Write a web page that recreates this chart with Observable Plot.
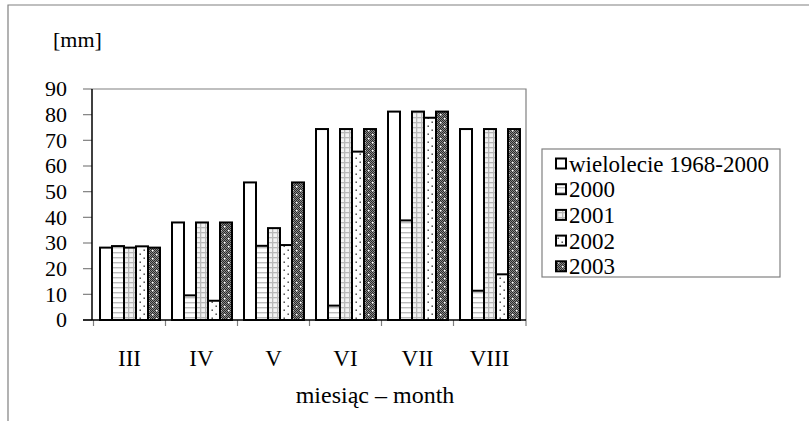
<!DOCTYPE html>
<html><head><meta charset="utf-8">
<script src="https://cdn.jsdelivr.net/npm/d3@7"></script>
<script src="https://cdn.jsdelivr.net/npm/@observablehq/plot@0.6"></script>
<style>
html,body{margin:0;padding:0;background:#fff;}
#chart{position:relative;width:809px;height:421px;}
</style></head><body><div id="chart"></div>
<script>
const months = ["III", "IV", "V", "VI", "VII", "VIII"];
const seriesNames = ["wielolecie 1968-2000", "2000", "2001", "2002", "2003"];
const valuesWielolecie = [28.2, 38.0, 53.6, 74.4, 81.2, 74.4];
const values2000 = [28.8, 9.6, 28.9, 5.6, 38.8, 11.4];
const values2001 = [28.2, 38.0, 35.8, 74.4, 81.2, 74.4];
const values2002 = [28.7, 7.5, 29.2, 65.6, 78.8, 17.8];
const values2003 = [28.2, 38.0, 53.6, 74.4, 81.2, 74.4];
const yTicks = [0, 10, 20, 30, 40, 50, 60, 70, 80, 90];
const yUnit = "[mm]";
const xTitle = "miesiąc – month";

const allValues = [valuesWielolecie, values2000, values2001, values2002, values2003];
const data = [];
seriesNames.forEach((s, i) => months.forEach((m, j) => data.push({month: m, series: s, value: allValues[i][j]})));

const FONT = "'Liberation Serif', 'Times New Roman', serif";

const plot = Plot.plot({
  width: 809, height: 421,
  marginLeft: 92, marginRight: 283, marginTop: 89, marginBottom: 101,
  fx: {domain: months, paddingInner: 0.13, paddingOuter: 0.065, axis: null, label: null},
  x: {domain: seriesNames, padding: 0, axis: null},
  y: {domain: [0, 90], axis: null},
  color: {domain: seriesNames, range: seriesNames.map((s, i) => `url(#pat${i})`)},
  style: {fontFamily: FONT, fontSize: "21px", background: "#fff", overflow: "visible"},
  marks: [
    Plot.barY(data, {fx: "month", x: "series", y: "value", fill: "series", stroke: "black", strokeWidth: 2})
  ]
});
document.getElementById("chart").appendChild(plot);

const svg = d3.select(plot);
const fx = plot.scale("fx");
const y = plot.scale("y");
const x0 = fx.range[0], x1 = fx.range[1];
const yb = y.apply(0), yt = y.apply(90);

// patterns
const defs = svg.insert("defs", ":first-child");
function pat(id, w, h) {
  return defs.append("pattern").attr("id", id).attr("patternUnits", "userSpaceOnUse").attr("width", w).attr("height", h);
}
pat("pat0", 4, 4).append("rect").attr("width", 4).attr("height", 4).attr("fill", "#fff");
{
  const p = pat("pat1", 4, 5);
  p.append("rect").attr("width", 4).attr("height", 5).attr("fill", "#fff");
  p.append("rect").attr("y", 2).attr("width", 4).attr("height", 1.4).attr("fill", "#bcbcbc");
}
{
  const p = pat("pat2", 5, 5);
  p.append("rect").attr("width", 5).attr("height", 5).attr("fill", "#f2f2f2");
  p.append("rect").attr("y", 2).attr("width", 5).attr("height", 1.3).attr("fill", "#b8b8b8");
  p.append("rect").attr("x", 2).attr("width", 1.3).attr("height", 5).attr("fill", "#b8b8b8");
}
{
  const p = pat("pat3", 8, 8);
  p.append("rect").attr("width", 8).attr("height", 8).attr("fill", "#fff");
  p.append("rect").attr("x", 1.5).attr("y", 1.5).attr("width", 1.4).attr("height", 1.4).attr("fill", "#333");
  p.append("rect").attr("x", 5.5).attr("y", 5.5).attr("width", 1.4).attr("height", 1.4).attr("fill", "#333");
}
{
  const p = pat("pat4", 8, 8);
  p.append("rect").attr("width", 8).attr("height", 8).attr("fill", "#8a8a8a");
  for (let i = 0; i < 8; i++) for (let j = 0; j < 8; j++) if ((i + j) % 2 === 0)
    p.append("rect").attr("x", i).attr("y", j).attr("width", 1).attr("height", 1).attr("fill", "#2a2a2a");
  p.append("rect").attr("x", 2).attr("y", 2).attr("width", 1.5).attr("height", 1.5).attr("fill", "#fff");
  p.append("rect").attr("x", 6).attr("y", 6).attr("width", 1.5).attr("height", 1.5).attr("fill", "#fff");
}

const g = svg.append("g").attr("text-anchor", "start").attr("font-family", FONT);
// outer frame
g.append("path").attr("d", `M8,421V5H809`).attr("fill", "none").attr("stroke", "#808080").attr("stroke-width", 1.2);
// plot frame top/right
g.append("path").attr("d", `M${x0},${yt}H${x1}V${yb}`).attr("fill", "none").attr("stroke", "#808080").attr("stroke-width", 1.2);
// y ticks
yTicks.forEach(t => {
  const yy = y.apply(t);
  g.append("line").attr("x1", x0 - 9).attr("x2", x0).attr("y1", yy).attr("y2", yy).attr("stroke", "#808080").attr("stroke-width", 1.2);
  g.append("text").attr("x", x0 - 25).attr("y", yy).attr("dy", "0.33em").attr("text-anchor", "end")
    .attr("font-size", 22).text(t);
});
// x boundary ticks
const bounds = months.map(m => fx.apply(m) - (fx.step - fx.bandwidth) / 2).concat([x1]);
bounds.forEach(bx => {
  g.append("line").attr("x1", bx).attr("x2", bx).attr("y1", yb).attr("y2", yb + 6).attr("stroke", "#808080").attr("stroke-width", 1.2);
});
// axes lines
g.append("line").attr("x1", x0).attr("x2", x0).attr("y1", yt).attr("y2", yb).attr("stroke", "#000").attr("stroke-width", 1.5);
g.append("line").attr("x1", x0 - 9).attr("x2", x1).attr("y1", yb).attr("y2", yb).attr("stroke", "#000").attr("stroke-width", 1.5);
// month labels
months.forEach(m => {
  g.append("text").attr("x", fx.apply(m) + fx.bandwidth / 2).attr("y", 366).attr("text-anchor", "middle")
    .attr("font-size", 23).text(m);
});
// titles
g.append("text").attr("x", 375).attr("y", 403).attr("text-anchor", "middle").attr("font-size", 24).text(xTitle);
g.append("text").attr("x", 53).attr("y", 47).attr("text-anchor", "start").attr("font-size", 22).text(yUnit);

// legend
const lg = g.append("g");
lg.append("rect").attr("x", 542).attr("y", 149).attr("width", 238).attr("height", 128).attr("fill", "#fff").attr("stroke", "#808080").attr("stroke-width", 1.2);
seriesNames.forEach((s, i) => {
  const cy = 163.5 + i * 25.7;
  lg.append("rect").attr("x", 556).attr("y", cy - 5).attr("width", 10).attr("height", 10)
    .attr("fill", `url(#pat${i})`).attr("stroke", "#000").attr("stroke-width", 2);
  lg.append("text").attr("x", 569).attr("y", cy).attr("dy", "0.35em").attr("text-anchor", "start")
    .attr("font-size", 23).text(s);
});
</script></body></html>
